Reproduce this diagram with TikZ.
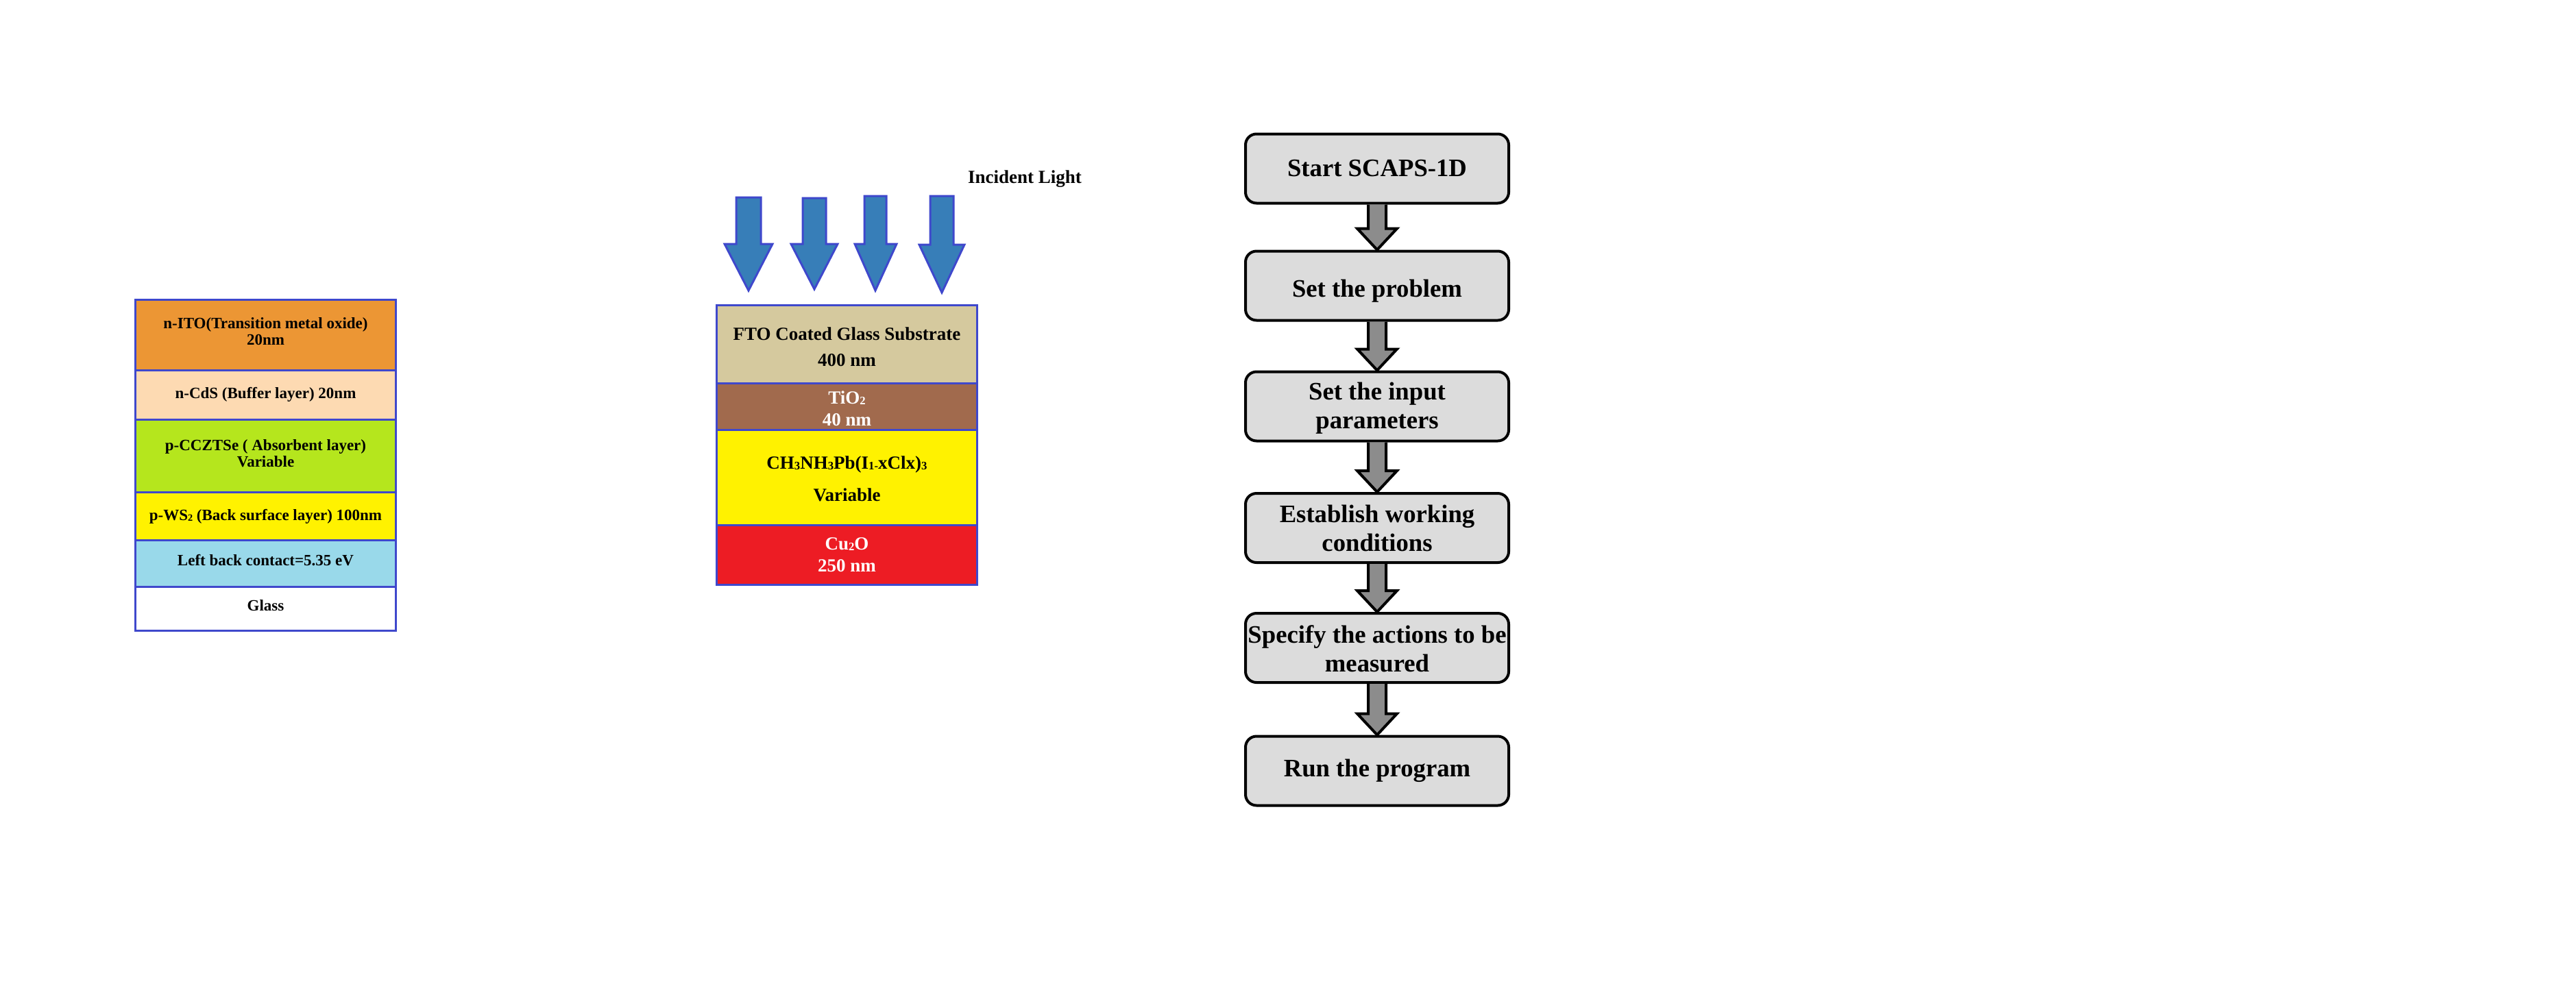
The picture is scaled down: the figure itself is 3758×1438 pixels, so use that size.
\documentclass[tikz,border=0pt]{standalone}
\usepackage{fontspec}
\setmainfont{Liberation Serif}
\usetikzlibrary{calc}
\definecolor{bordblue}{RGB}{63,72,204}
\definecolor{ito}{RGB}{236,150,52}
\definecolor{cds}{RGB}{253,218,178}
\definecolor{cczt}{RGB}{181,230,29}
\definecolor{wsy}{RGB}{255,242,0}
\definecolor{contact}{RGB}{153,217,234}
\definecolor{fto}{RGB}{213,201,158}
\definecolor{tio}{RGB}{161,106,77}
\definecolor{cuo}{RGB}{237,28,36}
\definecolor{lightblue}{RGB}{55,126,184}
\definecolor{boxgray}{RGB}{220,220,220}
\definecolor{arrgray}{RGB}{140,140,140}
\newcommand\lsub[1]{\raisebox{-0.06em}{\scalebox{0.62}{#1}}}
\newcommand\shiftv[2]{\raisebox{#1}[\height][\depth]{\begin{tabular}{@{}c@{}}#2\end{tabular}}}
\newcommand\lightarr[8]{%
  \draw[lightarrowstyle] (#1,#3) -- (#2,#3) -- (#2,#6) -- (#5,#6) -- (#7,#8) -- (#4,#6) -- (#1,#6) -- cycle;}
\newcommand\flowarrow[2]{%
  \fill[arrgray] let \p1=(#1.south), \p2=(#2.north) in
    (\x1-13pt,\y1) -- (\x1+13pt,\y1) -- (\x1+13pt,\y2+31pt) -- (\x1+29pt,\y2+31pt) -- (\x1,\y2) -- (\x1-29pt,\y2+31pt) -- (\x1-13pt,\y2+31pt) -- cycle;
  \draw[line width=4pt, line join=miter] let \p1=(#1.south), \p2=(#2.north) in
    (\x1-13pt,\y1) -- (\x1-13pt,\y2+31pt) -- (\x1-29pt,\y2+31pt) -- (\x1,\y2) -- (\x1+29pt,\y2+31pt) -- (\x1+13pt,\y2+31pt) -- (\x1+13pt,\y1);}
\begin{document}
\begin{tikzpicture}[x=1pt,y=-1pt,
  layer/.style={draw=bordblue, line width=3pt},
  lt/.style={font=\fontsize{23}{25}\selectfont\bfseries, inner sep=0pt, anchor=base},
  mt/.style={font=\fontsize{27}{30}\selectfont\bfseries, inner sep=0pt, anchor=base},
  lightarrowstyle/.style={draw=bordblue, fill=lightblue, line width=3pt, line join=miter},
  fbox/.style={draw, line width=4pt, fill=boxgray, rounded corners=16pt,
    minimum width=384pt, minimum height=101pt, align=center, inner sep=0pt,
    font=\fontsize{36.7}{42}\selectfont\bfseries}]
\useasboundingbox (0,0) rectangle (3758,1438);
\fill[white] (0,0) rectangle (3758,1438);

% ---------- left stack ----------
\draw[layer, fill=ito] (197.5,437.5) rectangle (577.5,540);
\draw[layer, fill=cds] (197.5,540) rectangle (577.5,612);
\draw[layer, fill=cczt] (197.5,612) rectangle (577.5,718);
\draw[layer, fill=wsy] (197.5,718) rectangle (577.5,788);
\draw[layer, fill=contact] (197.5,788) rectangle (577.5,856);
\draw[layer, fill=white] (197.5,856) rectangle (577.5,920.5);

\node[lt] (l1a) at (387.5,479.6) {n-ITO(Transition metal oxide)};
\node[lt] (l1b) at (387.5,503.6) {20nm};
\node[lt] (l2) at (387.5,581.6) {n-CdS (Buffer layer) 20nm};
\node[lt] (l3a) at (387.5,657.6) {p-CCZTSe ( Absorbent layer)};
\node[lt] (l3b) at (387.5,681.6) {Variable};
\node[lt] (l4) at (387.5,759.6) {p-WS\lsub{2} (Back surface layer) 100nm};
\node[lt] (l5) at (387.5,825.6) {Left back contact=5.35 eV};
\node[lt] (l6) at (387.5,891.6) {Glass};

% ---------- middle stack ----------
\lightarr{1074}{1110}{288}{1057}{1127}{356}{1092}{424}
\lightarr{1171}{1205}{289}{1154}{1222}{356}{1188}{422}
\lightarr{1261}{1293}{286}{1247}{1308}{356}{1277}{424}
\lightarr{1357}{1391}{286}{1341}{1407}{357}{1374}{427}

\node[mt] (inc) at (1495,267) {Incident Light};

\draw[layer, fill=fto] (1045.5,445.5) rectangle (1425.5,559);
\draw[layer, fill=tio] (1045.5,559) rectangle (1425.5,627);
\draw[layer, fill=wsy] (1045.5,627) rectangle (1425.5,766);
\draw[layer, fill=cuo] (1045.5,766) rectangle (1425.5,853.5);

\node[mt] (m1a) at (1235.5,496) {FTO Coated Glass Substrate};
\node[mt] (m1b) at (1235.5,534) {400 nm};
\node[mt, text=white] (m2a) at (1235.5,589) {TiO\lsub{2}};
\node[mt, text=white] (m2b) at (1235.5,621) {40 nm};
\node[mt] (m3a) at (1235.5,684) {CH\lsub{3}NH\lsub{3}Pb(I\lsub{1-}xClx)\lsub{3}};
\node[mt] (m3b) at (1235.5,731) {Variable};
\node[mt, text=white] (m4a) at (1235.5,802) {Cu\lsub{2}O};
\node[mt, text=white] (m4b) at (1235.5,834) {250 nm};

% ---------- flowchart ----------
\node[fbox] (b1) at (2009,246) {Start SCAPS-1D};
\node[fbox] (b2) at (2009,417) {\shiftv{-8pt}{Set the problem}};
\node[fbox] (b3) at (2009,593) {\shiftv{-3pt}{Set the input\\parameters}};
\node[fbox] (b4) at (2009,770.5) {\shiftv{-5pt}{Establish working\\conditions}};
\node[fbox] (b5) at (2009,945.5) {\shiftv{-6pt}{Specify the actions to be\\measured}};
\node[fbox] (b6) at (2009,1125) {\shiftv{0pt}{Run the program}};

\flowarrow{b1}{b2}
\flowarrow{b2}{b3}
\flowarrow{b3}{b4}
\flowarrow{b4}{b5}
\flowarrow{b5}{b6}
\end{tikzpicture}
\end{document}
